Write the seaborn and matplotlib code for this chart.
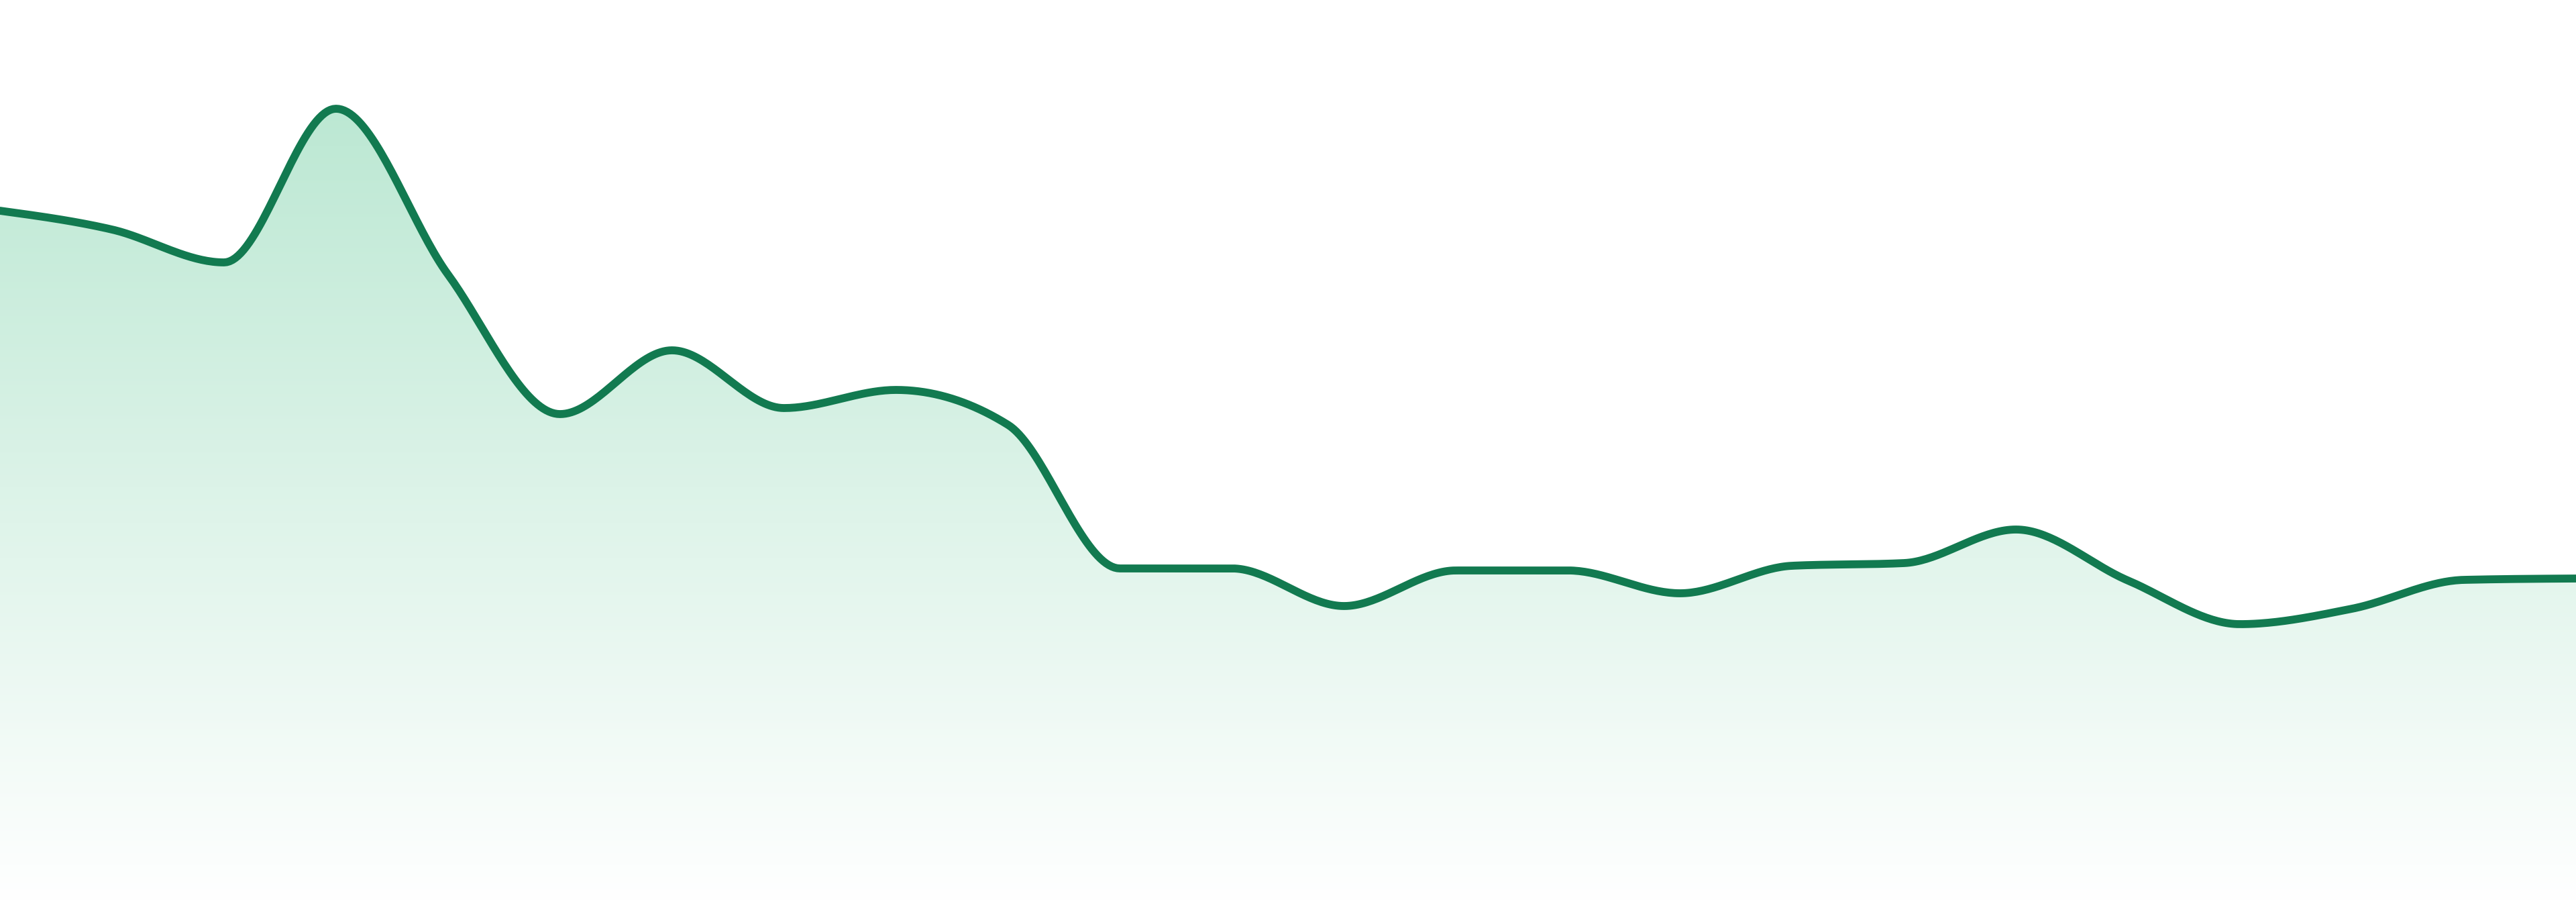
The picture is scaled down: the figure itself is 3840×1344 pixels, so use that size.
import numpy as np
import pandas as pd
import seaborn as sns
import matplotlib.pyplot as plt
from matplotlib.colors import LinearSegmentedColormap

# values (height above bottom edge, px-like units)
steps = list(range(24))
values = [1030, 1002, 953, 1182, 935, 727, 822, 736, 763, 711, 497, 497,
          441, 494, 494, 460, 501, 505, 555, 479, 414, 437, 480, 482]

line_color = '#127a50'
fill_top = '#bce8d3'
fill_bottom = '#ffffff'


def monotone_x(x, y, n=40):
    # same idea as d3.curveMonotoneX (Steffen slopes + hermite segments)
    x = np.asarray(x, float)
    y = np.asarray(y, float)
    h = np.diff(x)
    s = np.diff(y) / h
    t = np.zeros(len(x))
    for i in range(1, len(x) - 1):
        p = (s[i - 1] * h[i] + s[i] * h[i - 1]) / (h[i - 1] + h[i])
        t[i] = (np.sign(s[i - 1]) + np.sign(s[i])) * min(abs(s[i - 1]), abs(s[i]), 0.5 * abs(p))
    t[0] = (3 * s[0] - t[1]) / 2
    t[-1] = (3 * s[-1] - t[-2]) / 2
    xs, ys = [], []
    for i in range(len(x) - 1):
        u = np.linspace(0, 1, n, endpoint=False)
        h00 = 2 * u**3 - 3 * u**2 + 1
        h10 = u**3 - 2 * u**2 + u
        h01 = -2 * u**3 + 3 * u**2
        h11 = u**3 - u**2
        xs.append(x[i] + u * h[i])
        ys.append(h00 * y[i] + h10 * h[i] * t[i] + h01 * y[i + 1] + h11 * h[i] * t[i + 1])
    xs.append([x[-1]])
    ys.append([y[-1]])
    return np.concatenate(xs), np.concatenate(ys)


df = pd.DataFrame({'step': steps, 'value': values})
sx, sy = monotone_x(df['step'], df['value'])
smooth = pd.DataFrame({'step': sx, 'value': sy})

sns.set_style('white')
fig = plt.figure(figsize=(38.4, 13.44), dpi=100)
ax = fig.add_axes([0, 0, 1, 1])

ymax = 1344
top = max(values)
# vertical gradient under the curve
cmap = LinearSegmentedColormap.from_list('g', [fill_bottom, fill_top])
grad = np.linspace(0, 1, 512).reshape(-1, 1)
img = ax.imshow(grad, extent=[0, 23, 0, top], origin='lower', aspect='auto',
                cmap=cmap, zorder=1)
poly = ax.fill_between(smooth['step'], smooth['value'], 0, color='none')
img.set_clip_path(poly.get_paths()[0], transform=ax.transData)

sns.lineplot(data=smooth, x='step', y='value', color=line_color, linewidth=8.5,
             ax=ax, zorder=3, sort=False)

ax.set_xlim(0, 23)
ax.set_ylim(0, ymax)
ax.axis('off')
fig.savefig('out.png', dpi=100, facecolor='white')
